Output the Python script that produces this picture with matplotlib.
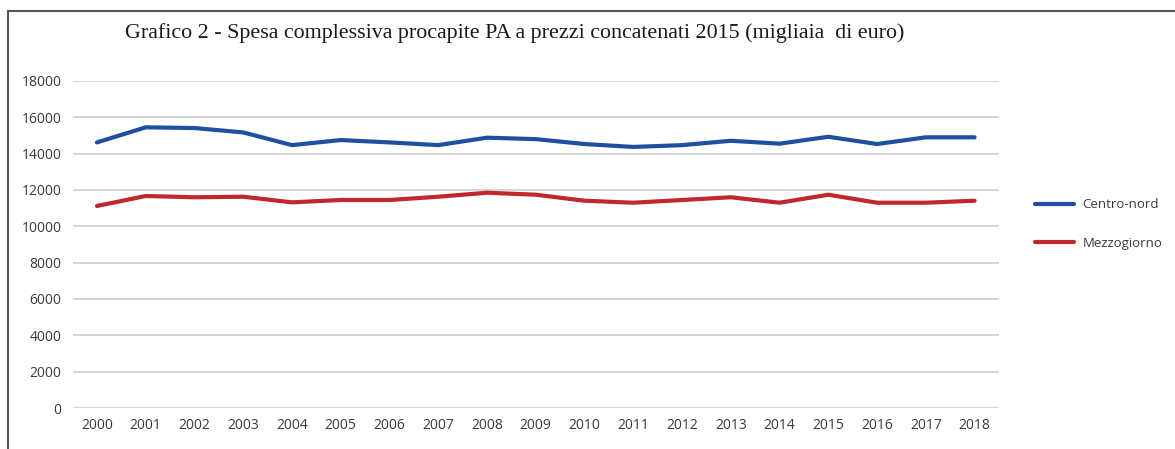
import matplotlib.pyplot as plt
from matplotlib.lines import Line2D

# dati
anni = [str(a) for a in range(2000, 2019)]
centro_nord = [14620, 15450, 15410, 15170, 14470, 14750, 14620, 14470, 14880, 14800,
               14530, 14370, 14470, 14710, 14550, 14930, 14530, 14900, 14900]
mezzogiorno = [11120, 11670, 11600, 11630, 11320, 11450, 11450, 11630, 11850, 11740,
               11410, 11300, 11450, 11600, 11300, 11740, 11300, 11300, 11410]
y_ticks = list(range(0, 18001, 2000))

W, H = 1175, 449
fig = plt.figure(figsize=(W / 100, H / 100), dpi=100)
fig.patch.set_facecolor('white')

# area del grafico
ax = fig.add_axes([72.6 / W, 1 - 408 / H, (999 - 72.6) / W, (408 - 81) / H])

x = list(range(len(anni)))
ax.plot(x, centro_nord, color='#1f4fa0', lw=3.0, solid_capstyle='round',
        solid_joinstyle='round', label='Centro-nord', zorder=3)
ax.plot(x, mezzogiorno, color='#c0282d', lw=3.0, solid_capstyle='round',
        solid_joinstyle='round', label='Mezzogiorno', zorder=3)

ax.set_xlim(-0.5, len(anni) - 0.5)
ax.set_ylim(0, 18000)
ax.set_yticks(y_ticks)
ax.set_yticklabels([str(v) for v in y_ticks])
ax.set_xticks(x)
ax.set_xticklabels(anni)

ax.grid(axis='y', color='#d6d6d6', lw=1.4)
ax.set_axisbelow(True)
for s in ax.spines.values():
    s.set_visible(False)
ax.tick_params(length=0, labelsize=10, colors='#3a3a3a')
ax.tick_params(axis='y', pad=8)
ax.tick_params(axis='x', pad=7)
for lab in ax.get_xticklabels() + ax.get_yticklabels():
    lab.set_fontfamily('Open Sans')

# titolo
fig.text(515 / W, 1 - 33 / H,
         'Grafico 2 - Spesa complessiva procapite PA a prezzi concatenati 2015 (migliaia  di euro)',
         ha='center', va='center', fontsize=15.8, family='Liberation Serif', color='#1a1a1a')

# legenda
leg = fig.legend(loc='center left', bbox_to_anchor=(1023 / W, 1 - 224 / H),
                 frameon=False, handlelength=3.0, handletextpad=0.6, labelspacing=1.9,
                 prop={'family': 'Open Sans', 'size': 9.5})
for t in leg.get_texts():
    t.set_color('#3a3a3a')

# cornice
fig.add_artist(Line2D([8 / W, 8 / W], [0, 1 - 11 / H], transform=fig.transFigure,
                      color='#555555', lw=1.5))
fig.add_artist(Line2D([8 / W, 1], [1 - 11 / H, 1 - 11 / H], transform=fig.transFigure,
                      color='#555555', lw=1.5))

fig.savefig('out.png', dpi=100, facecolor='white')
